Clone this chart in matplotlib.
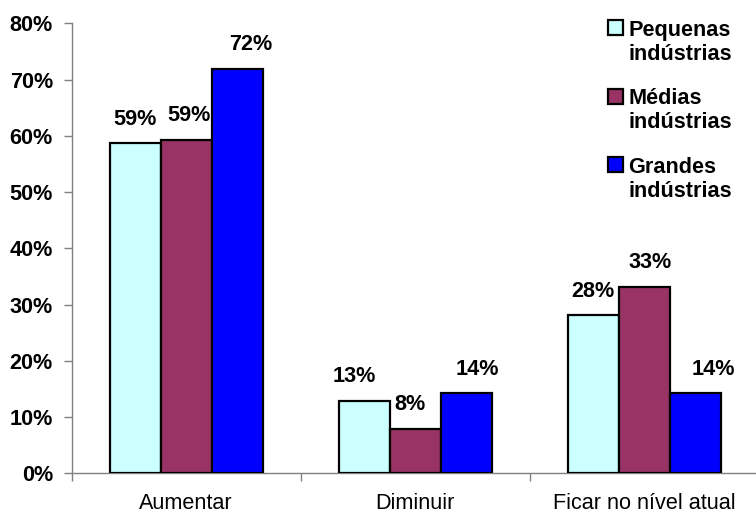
import matplotlib
matplotlib.use("Agg")
import matplotlib.pyplot as plt
from matplotlib.patches import Rectangle
import numpy as np

categories = ['Aumentar', 'Diminuir', 'Ficar no nível atual']
series_names = [['Pequenas', 'indústrias'], ['Médias', 'indústrias'], ['Grandes', 'indústrias']]
pequenas = [0.587, 0.129, 0.281]
medias = [0.593, 0.079, 0.332]
grandes = [0.719, 0.142, 0.142]
y_ticks = [0, 0.1, 0.2, 0.3, 0.4, 0.5, 0.6, 0.7, 0.8]

colors = ['#CCFFFF', '#993366', '#0000FF']
# label nudges in pixels (labels were moved by hand in the original)
label_dx = [[0, 2.5, 14], [-10, -5, 11], [0, 5.5, 18]]

plt.rcParams['font.family'] = ['Liberation Sans', 'DejaVu Sans']
W, H = 756, 513
fig = plt.figure(figsize=(W / 100, H / 100), dpi=100)
ax = fig.add_axes([71.7 / W, 1 - 473.3 / H, 687 / W, 450 / H])

x = np.arange(len(categories))
bw = 51 / 229
for k, vals in enumerate([pequenas, medias, grandes]):
    bars = ax.bar(x + (k - 1) * bw, vals, bw, color=colors[k], edgecolor='black',
                  linewidth=1.6, zorder=3)
    for i, b in enumerate(bars):
        ax.annotate(f"{vals[i]:.0%}", (b.get_x() + b.get_width() / 2, b.get_height()),
                    xytext=(label_dx[i][k], 18.5), textcoords='offset pixels',
                    ha='center', va='baseline', fontsize=15.6, fontweight='bold')

ax.set_xlim(-0.5, 2.5)
ax.set_ylim(0, 0.8)
ax.set_yticks(y_ticks)
ax.set_yticklabels([f"{t:.0%}" for t in y_ticks], fontsize=15.6, fontweight='bold')
ax.set_xticks([-0.5, 0.5, 1.5, 2.5])
ax.set_xticklabels([])
ax.set_xticks(x, minor=True)
ax.set_xticklabels(categories, minor=True, fontsize=15.6)
ax.tick_params(axis='x', which='minor', length=0, pad=14.5)
ax.tick_params(axis='x', which='major', length=5.5, color='#808080', width=1)
ax.tick_params(axis='y', length=6, pad=7.5, color='#808080', width=1)
for s in ['top', 'right']:
    ax.spines[s].set_visible(False)
for s in ['left', 'bottom']:
    ax.spines[s].set_color('#808080')
    ax.spines[s].set_linewidth(1)

# legend drawn by hand
for k, (l1, l2) in enumerate(series_names):
    base = 36 + k * 68.5
    fig.patches.append(Rectangle((608 / W, 1 - (base - 1) / H), 15 / W, 15 / H,
                                 transform=fig.transFigure, facecolor=colors[k],
                                 edgecolor='black', linewidth=1.6))
    fig.text(628 / W, 1 - base / H, l1, fontsize=15.6, fontweight='bold', va='baseline')
    fig.text(628 / W, 1 - (base + 24) / H, l2, fontsize=15.6, fontweight='bold', va='baseline')

fig.savefig('out.png', dpi=100)
